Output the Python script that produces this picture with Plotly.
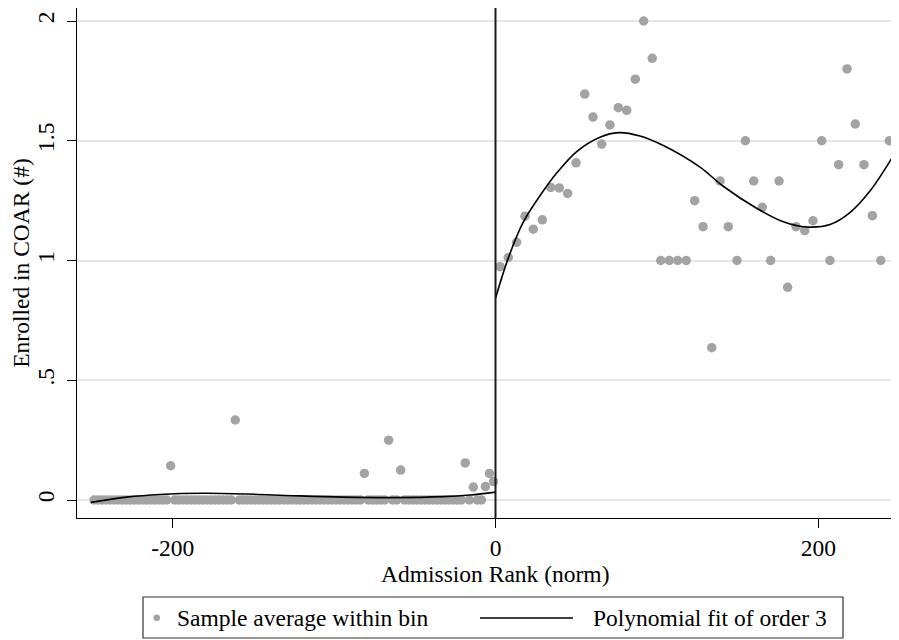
import plotly.graph_objects as go

# ---- data ----
left_x = [-248.75, -246.25, -243.75, -241.25, -238.75, -236.25, -233.75, -231.25, -228.75, -226.25,
          -223.75, -221.25, -218.75, -216.25, -213.75, -211.25, -208.75, -206.25, -203.75, -201.25,
          -198.75, -196.25, -193.75, -191.25, -188.75, -186.25, -183.75, -181.25, -178.75, -176.25,
          -173.75, -171.25, -168.75, -166.25, -163.75, -161.25, -158.75, -156.25, -153.75, -151.25,
          -148.75, -146.25, -143.75, -141.25, -138.75, -136.25, -133.75, -131.25, -128.75, -126.25,
          -123.75, -121.25, -118.75, -116.25, -113.75, -111.25, -108.75, -106.25, -103.75, -101.25,
          -98.75, -96.25, -93.75, -91.25, -88.75, -86.25, -83.75, -81.25, -78.75, -76.25,
          -73.75, -71.25, -68.75, -66.25, -63.75, -61.25, -58.75, -56.25, -53.75, -51.25,
          -48.75, -46.25, -43.75, -41.25, -38.75, -36.25, -33.75, -31.25, -28.75, -26.25,
          -23.75, -21.25, -18.75, -16.25, -13.75, -11.25, -8.75, -6.25, -3.75, -1.25]
left_y = [0] * 19 + [0.143] + [0] * 15 + [0.334] + [0] * 31 + [0.111] + [0] * 5 + [0.25] + [0, 0] + \
         [0.125] + [0] * 15 + [0.155, 0, 0.054, 0, 0, 0.056, 0.111, 0.077]

right_x = [2.8, 7.9, 13.1, 18.3, 23.4, 29.0, 34.2, 39.5, 44.7, 49.9,
           55.3, 60.4, 65.8, 70.9, 76.1, 81.3, 86.6, 91.8, 97.1, 102.4,
           107.7, 112.9, 118.2, 123.4, 128.6, 134.0, 139.1, 144.2, 149.6, 154.8,
           160.0, 165.3, 170.5, 175.7, 181.0, 186.2, 191.6, 196.7, 202.1, 207.2,
           212.6, 217.8, 222.9, 228.3, 233.5, 238.7, 244.0]
right_y = [0.974, 1.013, 1.076, 1.185, 1.131, 1.170, 1.305, 1.303, 1.280, 1.408,
           1.695, 1.599, 1.486, 1.566, 1.638, 1.627, 1.757, 2.000, 1.844, 1.000,
           1.000, 1.000, 1.000, 1.250, 1.141, 0.636, 1.332, 1.141, 1.000, 1.500,
           1.332, 1.222, 1.000, 1.332, 0.888, 1.141, 1.125, 1.166, 1.500, 1.000,
           1.400, 1.800, 1.570, 1.400, 1.187, 1.000, 1.500]

fit_left_x = [-250.8, -228.5, -207.9, -181.0, -154.2, -125.3, -94.3, -63.3, -32.3, -15.8, 0.0]
fit_left_y = [-0.010, 0.012, 0.023, 0.028, 0.025, 0.018, 0.012, 0.010, 0.014, 0.021, 0.033]

fit_right_x = [0.0, 7.9, 17.2, 29.6, 37.9, 50.3, 64.7, 76.1, 89.5, 104.0,
               126.7, 141.1, 161.8, 178.3, 192.8, 207.2, 219.6, 232.0, 246.5]
fit_right_y = [0.842, 1.010, 1.160, 1.290, 1.365, 1.455, 1.515, 1.534, 1.520, 1.480,
               1.390, 1.310, 1.218, 1.162, 1.140, 1.150, 1.200, 1.290, 1.438]

x_ticks = [-200, 0, 200]
x_tick_labels = ["-200", "0", "200"]
y_ticks = [0, 0.5, 1, 1.5, 2]
y_tick_labels = ["0", ".5", "1", "1.5", "2"]

FONT = "Liberation Serif"
FS = 23.5
DOT = "#a3a3a3"

fig = go.Figure()
fig.add_trace(go.Scatter(x=left_x + right_x, y=left_y + right_y, mode="markers",
                         marker=dict(color=DOT, size=9.5, line=dict(width=0)),
                         name="Sample average within bin", showlegend=False))
fig.add_trace(go.Scatter(x=fit_left_x, y=fit_left_y, mode="lines",
                         line=dict(color="black", width=1.6, shape="spline"), showlegend=False))
fig.add_trace(go.Scatter(x=fit_right_x, y=fit_right_y, mode="lines",
                         line=dict(color="black", width=1.6, shape="spline"), showlegend=False))

fig.add_vline(x=0, line=dict(color="#1a1a1a", width=2))

# The page body has an 8px margin, so the figure is sized 8px smaller than the window.
OFF = 8
W, H = 899 - OFF, 640 - OFF
L, R, T, B = 77 - OFF, 0, 0, 122
pw, ph = W - L - R, H - T - B

def px(X):   # page pixel x -> paper x
    return (X - OFF - L) / pw

def py(Y):   # page pixel y -> paper y
    return (H - B - (Y - OFF)) / ph

shapes = [
    dict(type="rect", xref="paper", yref="paper", x0=px(143), x1=px(843), y0=py(597), y1=py(638),
         line=dict(color="#333333", width=1.2), fillcolor="white", layer="below"),
    dict(type="circle", xref="paper", yref="paper", x0=px(153.5), x1=px(160), y0=py(614.5), y1=py(621),
         line=dict(width=0), fillcolor=DOT),
    dict(type="line", xref="paper", yref="paper", x0=px(480), x1=px(573), y0=py(618), y1=py(618),
         line=dict(color="black", width=1.6)),
]
annotations = [
    dict(text="Sample average within bin", xref="paper", yref="paper", x=px(175), y=py(618),
         xanchor="left", yanchor="middle", showarrow=False, font=dict(family=FONT, size=FS, color="black")),
    dict(text="Polynomial fit of order 3", xref="paper", yref="paper", x=px(829), y=py(618),
         xanchor="right", yanchor="middle", showarrow=False, font=dict(family=FONT, size=FS, color="black")),
    dict(text="Admission Rank (norm)", xref="paper", yref="paper", x=px(495), y=py(574),
         xanchor="center", yanchor="middle", showarrow=False, font=dict(family=FONT, size=FS, color="black")),
]
fig.update_layout(shapes=list(fig.layout.shapes) + shapes, annotations=annotations)

# y range so that 0 sits at page y=500 and 2 at page y=21 (plot spans page y 8..518)
k = (500 - 21) / 2.0
y_top = 2 + (21 - 8) / k
y_bot = -(518 - 500) / k

fig.update_layout(
    width=W, height=H,
    margin=dict(l=L, r=R, t=T, b=B, pad=0),
    plot_bgcolor="white", paper_bgcolor="white",
    font=dict(family=FONT, size=FS, color="black"),
    showlegend=False,
    xaxis=dict(range=[-259.3, 250.0], tickvals=x_ticks, ticktext=x_tick_labels, ticks="outside",
               ticklen=9, tickcolor="black", automargin=False,
               showline=True, linecolor="black", linewidth=1, showgrid=False, zeroline=False,
               tickfont=dict(size=FS)),
    yaxis=dict(range=[y_bot, y_top], tickvals=y_ticks, ticktext=y_tick_labels, tickangle=-90,
               ticks="outside", ticklen=9, tickcolor="black", automargin=False, ticklabelstandoff=4,
               showline=True, linecolor="black", linewidth=1, showgrid=True, gridcolor="#e6e6e6",
               gridwidth=1.5, zeroline=False,
               title=dict(text="Enrolled in COAR (#)", standoff=2, font=dict(size=FS)),
               tickfont=dict(size=FS)),
)

fig.write_html("out.html")
